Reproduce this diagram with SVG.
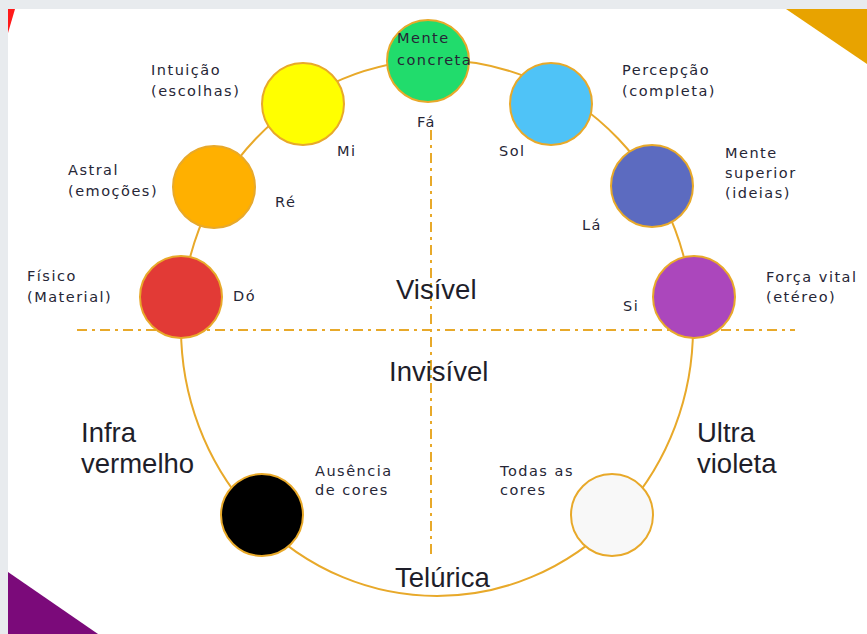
<svg xmlns="http://www.w3.org/2000/svg" width="867" height="634" viewBox="0 0 867 634">
<style>
.bg{fill:#e8ebee}
.ring{fill:none;stroke:#e8a92a;stroke-width:2}
.dash{fill:none;stroke:#e8a92a;stroke-width:2;stroke-dasharray:10 5 3 5}
.node{stroke:#e8a92a;stroke-width:2}
.s{font-family:"DejaVu Sans",Verdana,sans-serif;font-size:14.5px;letter-spacing:1.5px;fill:#262636}
.b{font-family:"Liberation Sans",Arial,sans-serif;font-size:27.5px;fill:#1e1e2a}
</style>
<rect width="867" height="634" fill="#ffffff"/>
<rect class="bg" x="0" y="0" width="867" height="9"/>
<rect class="bg" x="0" y="0" width="8" height="634"/>
<polygon points="8,9 15,9 8,33" fill="#ff1a1a"/>
<polygon points="786,9 867,9 867,64" fill="#e8a300"/>
<polygon points="8,572 98,634 8,634" fill="#7b0a7a"/>

<g id="connectors">
<ellipse class="ring" cx="437" cy="328" rx="256" ry="268"/>
<line class="dash" x1="77" y1="330" x2="795" y2="330"/>
<line class="dash" x1="431" y1="130" x2="431" y2="558"/>
</g>

<g id="fa"><circle class="node" cx="428" cy="61" r="41" fill="#21dc6c"/>
<text class="s" x="397" y="43">Mente</text><text class="s" x="397" y="65">concreta</text>
<text class="s" x="417" y="127">Fá</text></g>
<g id="mi"><circle class="node" cx="303" cy="104" r="41" fill="#ffff00"/>
<text class="s" x="151" y="75">Intuição</text><text class="s" x="151" y="96">(escolhas)</text>
<text class="s" x="337" y="156">Mi</text></g>
<g id="re"><circle class="node" cx="214" cy="187" r="41" fill="#ffb000"/>
<text class="s" x="68" y="175">Astral</text><text class="s" x="68" y="196">(emoções)</text>
<text class="s" x="275" y="207">Ré</text></g>
<g id="do"><circle class="node" cx="181" cy="297" r="41" fill="#e23a36"/>
<text class="s" x="27" y="281">Físico</text><text class="s" x="27" y="302">(Material)</text>
<text class="s" x="233" y="301">Dó</text></g>
<g id="sol"><circle class="node" cx="551" cy="104" r="41" fill="#4fc3f7"/>
<text class="s" x="622" y="75">Percepção</text><text class="s" x="622" y="96">(completa)</text>
<text class="s" x="499" y="156">Sol</text></g>
<g id="la"><circle class="node" cx="652" cy="186" r="41" fill="#5c6bc0"/>
<text class="s" x="725" y="158">Mente</text><text class="s" x="725" y="178">superior</text><text class="s" x="725" y="198">(ideias)</text>
<text class="s" x="582" y="230">Lá</text></g>
<g id="si"><circle class="node" cx="694" cy="297" r="41" fill="#ab47bc"/>
<text class="s" x="766" y="282">Força vital</text><text class="s" x="766" y="302">(etéreo)</text>
<text class="s" x="623" y="311">Si</text></g>
<g id="ausencia"><circle class="node" cx="262" cy="515" r="41" fill="#000000"/>
<text class="s" x="315" y="476">Ausência</text><text class="s" x="315" y="495">de cores</text></g>
<g id="todas"><circle class="node" cx="612" cy="515" r="41" fill="#f8f8f8"/>
<text class="s" x="500" y="476">Todas as</text><text class="s" x="500" y="495">cores</text></g>

<g id="labels">
<text class="b" x="396" y="299">Visível</text>
<text class="b" x="389" y="381">Invisível</text>
<text class="b" x="81" y="442">Infra</text><text class="b" x="81" y="473">vermelho</text>
<text class="b" x="697" y="442">Ultra</text><text class="b" x="697" y="473">violeta</text>
<text class="b" x="395" y="587">Telúrica</text>
</g>
</svg>
